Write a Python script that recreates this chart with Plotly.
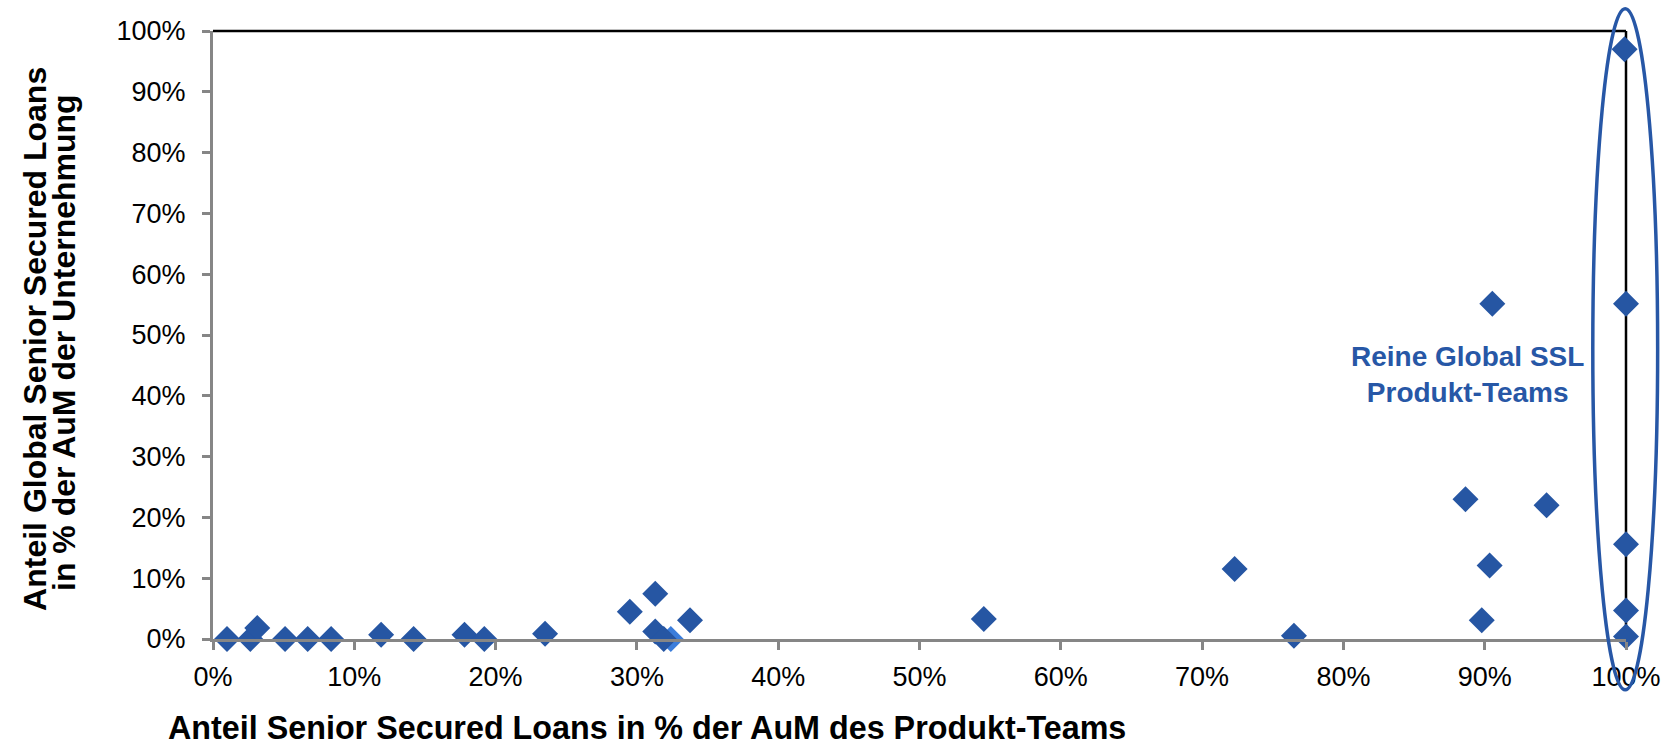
import plotly.graph_objects as go

# Data (fractions)
team_share = [0.0099, 0.0264, 0.0313, 0.051, 0.067, 0.0836, 0.119, 0.142, 0.178, 0.192,
              0.235, 0.295, 0.313, 0.313, 0.319, 0.3376, 0.5455, 0.723, 0.765, 0.8864,
              0.9054, 0.9035, 0.8979, 0.9438, 0.999, 1.0, 1.0, 1.0, 1.0]
firm_share = [0.0, 0.0, 0.018, 0.0, 0.0, 0.0, 0.007, 0.0, 0.007, 0.0,
              0.0087, 0.045, 0.0745, 0.0125, 0.0, 0.031, 0.033, 0.115, 0.0055, 0.23,
              0.5515, 0.121, 0.0307, 0.2198, 0.97, 0.5515, 0.156, 0.047, 0.004]
light_team_share = [0.324, 1.002]
light_firm_share = [0.0, 0.0]

tick_vals = [i / 10 for i in range(11)]
tick_text = [f"{i * 10}%" for i in range(11)]

DARK = "#2656A3"
LIGHT = "#3B7DDB"
FONT = "Liberation Sans, Arial, sans-serif"

fig = go.Figure()
fig.add_trace(go.Scatter(x=light_team_share, y=light_firm_share, mode="markers",
                         marker=dict(symbol="diamond", size=20, color=LIGHT),
                         cliponaxis=False, showlegend=False))
fig.add_trace(go.Scatter(x=team_share, y=firm_share, mode="markers",
                         marker=dict(symbol="diamond", size=20, color=DARK),
                         cliponaxis=False, showlegend=False))

axis_common = dict(
    range=[0, 1], tickvals=tick_vals, ticktext=tick_text,
    showgrid=False, zeroline=False, showline=True, linecolor="#868686", linewidth=3,
    ticks="outside", ticklen=8, tickwidth=3, tickcolor="#868686",
    tickfont=dict(family=FONT, size=27, color="#000000"),
)
fig.update_xaxes(**axis_common, ticklabelstandoff=4)
fig.update_yaxes(**axis_common, ticklabelstandoff=11)

shapes = [
    # top and right border (black)
    dict(type="line", xref="paper", yref="paper", x0=0, x1=1, y0=1, y1=1,
         line=dict(color="#000000", width=2.5)),
    dict(type="line", xref="paper", yref="paper", x0=1, x1=1, y0=0, y1=1,
         line=dict(color="#000000", width=2.5), layer="below"),
    # ellipse around pure SSL teams
    dict(type="circle", xref="paper", yref="paper", x0=0.9765, x1=1.0224, y0=-0.0834, y1=1.0367,
         line=dict(color="#2757A6", width=3.5)),
]

annotations = [
    dict(text="Reine Global SSL<br>Produkt-Teams", xref="x", yref="y", x=0.8876, y=0.4347,
         showarrow=False, font=dict(family=FONT, size=28, color="#2757A6", weight="bold"),
         align="center"),
    dict(text="<b>Anteil Senior Secured Loans in % der AuM des Produkt-Teams</b>",
         xref="paper", yref="paper", x=0.307, y=-0.147, xanchor="center", yanchor="middle",
         showarrow=False, borderpad=0,
         font=dict(family=FONT, size=32.3, color="#000000")),
    dict(text="<b>Anteil Global Senior Secured Loans</b>",
         xref="paper", yref="paper", x=-0.1265, y=0.494, xanchor="center", yanchor="middle",
         textangle=-90, showarrow=False, font=dict(family=FONT, size=32, color="#000000")),
    dict(text="<b>in % der AuM der Unternehmung</b>",
         xref="paper", yref="paper", x=-0.1054, y=0.487, xanchor="center", yanchor="middle",
         textangle=-90, showarrow=False, font=dict(family=FONT, size=32, color="#000000")),
]

fig.update_layout(
    width=1673, height=747,
    margin=dict(l=213, r=43, t=31, b=108),
    paper_bgcolor="white", plot_bgcolor="white",
    shapes=shapes, annotations=annotations,
    font=dict(family=FONT),
)

fig.write_html(
    "out.html",
    config={"displayModeBar": False},
    post_script="document.body.style.margin='0';document.documentElement.style.overflow='hidden';",
)
